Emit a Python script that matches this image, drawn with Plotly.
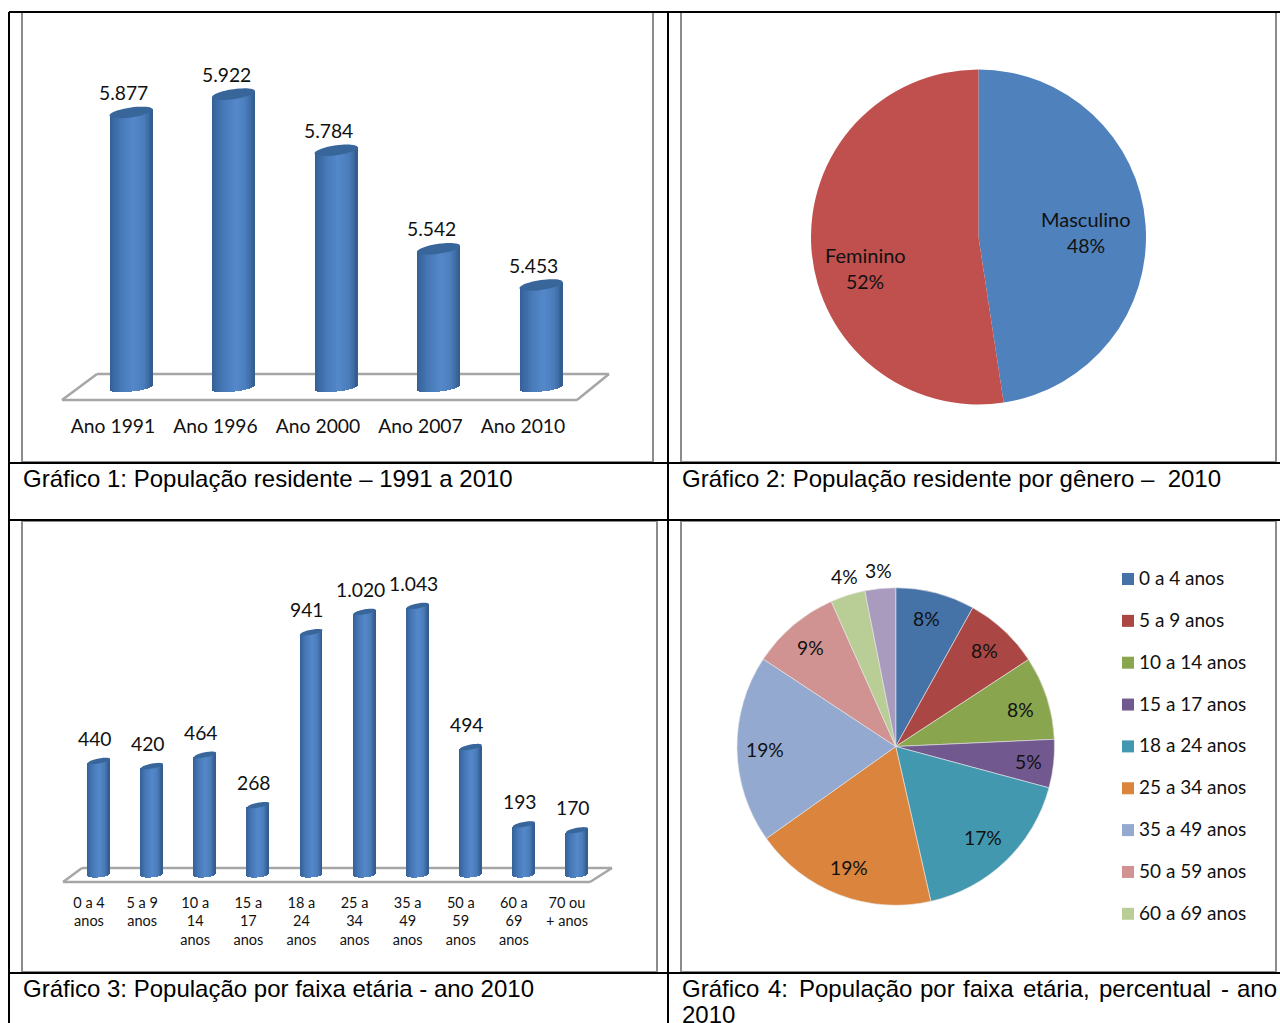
import math
import plotly.graph_objects as go

# ---------- data ----------
years = ["Ano 1991", "Ano 1996", "Ano 2000", "Ano 2007", "Ano 2010"]
population = [5877, 5922, 5784, 5542, 5453]

genders = ["Masculino", "Feminino"]
gender_share = [47.6, 52.4]
gender_text = ["48%", "52%"]

age_ticks = ["0 a 4<br>anos", "5 a 9<br>anos", "10 a<br>14<br>anos", "15 a<br>17<br>anos",
             "18 a<br>24<br>anos", "25 a<br>34<br>anos", "35 a<br>49<br>anos", "50 a<br>59<br>anos",
             "60 a<br>69<br>anos", "70 ou<br>+ anos"]
age_labels = ["0 a 4 anos", "5 a 9 anos", "10 a 14 anos", "15 a 17 anos", "18 a 24 anos",
              "25 a 34 anos", "35 a 49 anos", "50 a 59 anos", "60 a 69 anos", "70 ou + anos"]
age_population = [440, 420, 464, 268, 941, 1020, 1043, 494, 193, 170]
age_pct_text = ["8%", "8%", "8%", "5%", "17%", "19%", "19%", "9%", "4%", "3%"]
age_colors = ["#4572A7", "#AA4643", "#89A54E", "#71588F", "#4198AF",
              "#DB843D", "#93A9CF", "#D19392", "#B9CD96", "#A99BBD"]

captions = ["Gráfico 1: População residente – 1991 a 2010",
            "Gráfico 2: População residente por gênero –\u00a0 2010",
            "Gráfico 3: População por faixa etária - ano 2010"]
caption4_words = ["Gráfico", "4:", "População", "por", "faixa", "etária,", "percentual", "-", "ano"]
caption4_last = "2010"

# ---------- page helpers ----------
W, H = 1280, 1023
def X(p): return p / W
def Y(p): return 1 - p / H

BODY = "Lato"
CAP = "Liberation Sans"
INK = "#111111"
FRAME = "#8C8C8C"
FLOOR = "#A6A6A6"

shapes, annots = [], []

def line(x0, y0, x1, y1, color, width):
    shapes.append(dict(type="line", xref="paper", yref="paper", x0=X(x0), y0=Y(y0), x1=X(x1), y1=Y(y1),
                       line=dict(color=color, width=width), layer="below"))

def text(px, py, s, size, family=BODY, anchor="center", color=INK):
    annots.append(dict(xref="paper", yref="paper", x=X(px), y=Y(py), text=s, showarrow=False,
                       xanchor=anchor, yanchor="middle", align=anchor,
                       font=dict(family=family, size=size, color=color)))

# ---------- frames ----------
for (x0, y0, x1, y1) in [(22, 13, 22, 462), (22, 462, 653, 462), (653, 13, 653, 462),
                         (681, 13, 681, 462), (681, 462, 1276, 462), (1276, 13, 1276, 462),
                         (22, 521, 22, 972), (22, 972, 657, 972), (657, 521, 657, 972), (22, 521, 657, 521),
                         (681, 521, 681, 972), (681, 972, 1276, 972), (1276, 521, 1276, 972), (681, 521, 1276, 521)]:
    line(x0, y0, x1, y1, FRAME, 2)
for (x0, y0, x1, y1) in [(9, 12, 1280, 12), (9, 463, 1280, 463), (9, 520, 1280, 520), (9, 973, 1280, 973),
                         (9, 12, 9, 1023), (668, 12, 668, 1023)]:
    line(x0, y0, x1, y1, "#000000", 2)

# ---------- cylinders ----------
STOPS = [(0.0, (52, 96, 150)), (0.25, (70, 120, 182)), (0.55, (84, 136, 202)),
         (0.8, (74, 124, 186)), (1.0, (48, 90, 138))]
def ramp(t):
    for (t0, c0), (t1, c1) in zip(STOPS, STOPS[1:]):
        if t <= t1:
            f = (t - t0) / (t1 - t0)
            return "rgb(%d,%d,%d)" % tuple(round(a + (b - a) * f) for a, b in zip(c0, c1))
    return "rgb(48,90,138)"

def cylinders(fig, values, xa, ya, xstep, ppu, y0val, a, top_b, top_s, bot_b, bot_s, n=22):
    half = (a / xstep)
    positions = list(range(len(values)))
    for k in range(n):
        u = (2 * k + 1) / n - 1
        strip = 2 * half / n
        left = half * (2 * k / n - 1)
        base = [y0val - (bot_b * math.sqrt(1 - u * u) - bot_s * u) / ppu for _ in values]
        tops = [v + top_s * u / ppu for v in values]
        fig.add_trace(go.Bar(x=positions, y=[t - b for t, b in zip(tops, base)], base=base,
                             width=strip * 1.4 if k < n - 1 else strip, offset=left,
                             marker=dict(color=ramp((k + .5) / n), line=dict(width=0)),
                             cliponaxis=False, hoverinfo="skip", showlegend=False,
                             xaxis=xa, yaxis=ya))
    for i, v in enumerate(values):
        pts = []
        for j in range(48):
            th = 2 * math.pi * j / 48
            dx = a * math.cos(th) / xstep
            dy = (-top_b * math.sin(th) + top_s * math.cos(th)) / ppu
            pts.append((i + dx, v + dy))
        d = "M" + " L".join(f"{p:.4f},{q:.3f}" for p, q in pts) + " Z"
        shapes.append(dict(type="path", xref=xa, yref=ya, path=d, layer="above",
                           fillcolor="#38669B", line=dict(width=0)))

def floor(pts):
    for (x0, y0), (x1, y1) in zip(pts, pts[1:] + pts[:1]):
        line(x0, y0, x1, y1, FLOOR, 2.5)

fig = go.Figure()

# chart 1
STEP1 = (541 - 131) / 4
PPU1 = 0.407
floor([(62, 400), (97, 374), (609, 374), (577, 400)])
cylinders(fig, population, "x", "y", STEP1, PPU1, 5200, 21.5, 5, 3, 4, 2.5)
for i, v in enumerate(population):
    annots.append(dict(xref="x", yref="y", x=i, y=v, text=f"{v:,}".replace(",", "."), showarrow=False,
                       xshift=-7.5, yshift=20, xanchor="center", yanchor="middle",
                       font=dict(family=BODY, size=19.3, color=INK)))

# chart 3
C3_FIRST, C3_LAST = 99, 577
STEP3 = (C3_LAST - C3_FIRST) / 9
PPU3 = 0.257
floor([(63, 882), (82, 868), (612, 868), (590, 882)])
cylinders(fig, age_population, "x2", "y2", STEP3, PPU3, 0, 11, 2.5, 2, 3, 1)
for i, v in enumerate(age_population):
    annots.append(dict(xref="x2", yref="y2", x=i, y=v, text=f"{v:,}".replace(",", "."), showarrow=False,
                       xshift=-4, yshift=22.5, xanchor="center", yanchor="middle",
                       font=dict(family=BODY, size=19.3, color=INK)))

# chart 2 pie
fig.add_trace(go.Pie(labels=genders, values=gender_share, sort=False, direction="clockwise", rotation=0,
                     marker=dict(colors=["#4F81BD", "#C0504D"], line=dict(width=0)),
                     textinfo="none", hoverinfo="label+percent", showlegend=False,
                     domain=dict(x=[X(811), X(1146)], y=[Y(405), Y(69)])))
text(1086, 219, genders[0], 20); text(1086, 245, gender_text[0], 19.5)
text(865, 255, genders[1], 20); text(865, 281, gender_text[1], 19.5)

# chart 4 pie
fig.add_trace(go.Pie(labels=age_labels, values=age_population, sort=False, direction="clockwise", rotation=0,
                     marker=dict(colors=age_colors, line=dict(width=0.6, color="#E8E8E8")),
                     textinfo="none", hoverinfo="label+percent", showlegend=False,
                     domain=dict(x=[X(737), X(1054.5)], y=[Y(905.5), Y(587.5)])))
pct_xy = [(926, 618), (984, 650), (1020, 709), (1028, 761), (983, 837),
          (849, 867), (765, 749), (810, 647), (844, 576), (878, 570)]
for (px, py), s in zip(pct_xy, age_pct_text):
    text(px, py, s, 19.3)

# legend of chart 4 (first nine entries are the only ones visible)
for k in range(9):
    cy = 579 + k * 41.85
    shapes.append(dict(type="rect", xref="paper", yref="paper", x0=X(1122), x1=X(1134), y0=Y(cy - 6), y1=Y(cy + 6),
                       fillcolor=age_colors[k], line=dict(width=0)))
    text(1137, cy - 1.5, age_labels[k], 19, anchor="left")

# captions
text(21, 478, captions[0], 24, CAP, "left", "#000000")
text(680, 478, captions[1], 24, CAP, "left", "#000000")
text(21, 988, captions[2], 24, CAP, "left", "#000000")
word_x = [680, 766, 797, 918, 961, 1021, 1097, 1219, 1235]
for wx, w in zip(word_x, caption4_words):
    text(wx, 988, w, 24, CAP, "left", "#000000")
text(680, 1014, caption4_last, 24, CAP, "left", "#000000")

DROP = 10  # pixels of plot area kept below each baseline for the rounded cylinder bottoms
axis_common = dict(showgrid=False, zeroline=False, showline=False, ticks="", fixedrange=True)
fig.update_layout(
    width=W, height=H, margin=dict(l=0, r=0, t=0, b=0, pad=0, autoexpand=False), autosize=False,
    paper_bgcolor="white", plot_bgcolor="rgba(0,0,0,0)", barmode="overlay", bargap=0,
    showlegend=False, shapes=shapes, annotations=annots,
    xaxis=dict(domain=[X(131 - STEP1 / 2), X(541 + STEP1 / 2)], range=[-.5, 4.5], tickmode="array", anchor="y",
               tickvals=list(range(5)), ticktext=years, tickfont=dict(family=BODY, size=19.3, color=INK),
               ticklabelstandoff=15, ticklabelshift=-18, **axis_common),
    yaxis=dict(domain=[Y(388 + DROP), Y(388 - 800 * PPU1)], range=[5200 - DROP / PPU1, 6000], anchor="x",
               visible=False, fixedrange=True),
    xaxis2=dict(domain=[X(C3_FIRST - STEP3 / 2), X(C3_LAST + STEP3 / 2)], range=[-.5, 9.5], tickmode="array", anchor="y2",
                tickvals=list(range(10)), ticktext=age_ticks, tickfont=dict(family=BODY, size=14.5, color=INK),
                ticklabelstandoff=8, ticklabelshift=-10, **axis_common),
    yaxis2=dict(domain=[Y(874 + DROP), Y(874 - 1200 * PPU3)], range=[-DROP / PPU3, 1200], anchor="x2",
                visible=False, fixedrange=True),
)

fig.write_html("out.html", config=dict(displayModeBar=False),
               post_script="document.body.style.margin='0';")
